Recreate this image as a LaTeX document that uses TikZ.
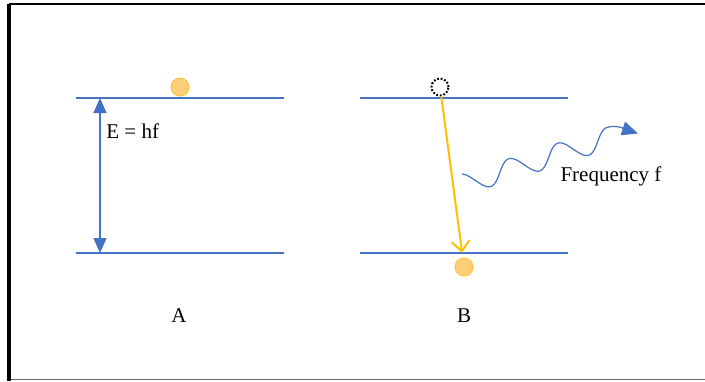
\documentclass[tikz,border=0pt]{standalone}
\usepackage{fontspec}
\setmainfont{Liberation Serif}
\usepackage{tikz}
\usetikzlibrary{arrows.meta}
\definecolor{levelblue}{RGB}{68,114,196}
\definecolor{dropgold}{RGB}{255,192,0}
\definecolor{electronfill}{RGB}{255,206,120}
\definecolor{electrondraw}{RGB}{255,196,60}
\tikzset{
  level/.style={levelblue, line width=0.6pt},
  electron/.style={circle, draw=electrondraw, fill=electronfill,
    line width=0.5pt, minimum size=9pt, inner sep=0pt},
  ghost/.style={circle, draw=black, dash pattern=on 0.9pt off 0.9pt, line width=1pt,
    minimum size=8.5pt, inner sep=0pt},
  gaparr/.style={{Triangle[length=7.5pt,width=6.5pt]}-{Triangle[length=7.5pt,width=6.5pt]},
    levelblue, line width=0.6pt},
  droparr/.style={-{Straight Barb[length=5pt,width=9pt]}, dropgold, line width=1pt},
  photonarr/.style={-{Triangle[length=8pt,width=7pt]}, levelblue, line width=0.6pt},
  lbl/.style={font=\fontsize{10.5}{12}\selectfont, inner sep=0pt},
}
\begin{document}
\begin{tikzpicture}[x=0.5pt, y=-0.5pt]
  \useasboundingbox (0,0) rectangle (705,381);
  \fill[white] (0,0) rectangle (705,381);

  % frame
  \draw[black!60, line width=0.6pt] (9,379.5) -- (705,379.5);
  \draw[black, line width=1pt] (705,4) -- (9,4);
  \draw[black, line width=1.6pt] (9,3.5) -- (9,381);

  % panel A
  \draw[level] (76,98) -- (284,98);
  \draw[level] (76,253) -- (284,253);
  \coordinate (Atop) at (100,98);
  \coordinate (Abot) at (100,253);
  \node[electron] (eA) at (180,87) {};
  \draw[gaparr] (Atop) -- (Abot);
  \node[lbl, anchor=west] (gap) at (106,131) {E = hf};
  \node[lbl] (capA) at (179,316) {A};

  % panel B
  \draw[level] (360,98) -- (568,98);
  \draw[level] (360,253) -- (568,253);
  \node[ghost] (ghostB) at (440,87) {};
  \node[electron] (eB) at (464,267) {};
  \draw[droparr, shorten >=2.5pt] (ghostB) -- (eB);
  \node[lbl] (capB) at (464,316) {B};

  % emitted photon: sine wave along a tilted axis
  \coordinate (waveE) at (638,133.5);
  \draw[photonarr] plot[domain=0:152.06, samples=90, smooth, variable=\t]
    ({465.1 + 0.953*\t - 3.192*sin(7.004*\t + 105)},
     {183.7 - 0.304*\t - 10.007*sin(7.004*\t + 105)})
    .. controls (617,124.3) and (626,129.5) .. (waveE);
  \node[lbl] (freq) at (611,176) {Frequency f};
\end{tikzpicture}
\end{document}
